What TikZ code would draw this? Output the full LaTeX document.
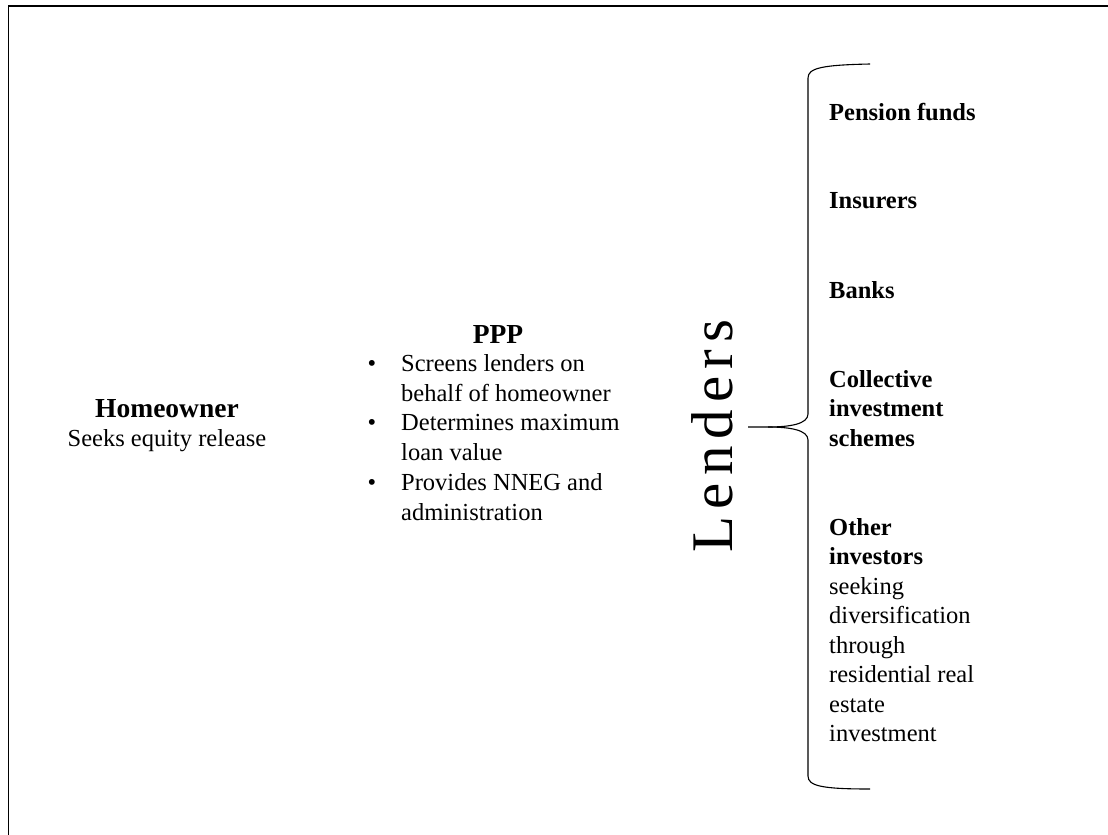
\documentclass[tikz,border=0pt]{standalone}
\usepackage{fontspec}
\setmainfont{Liberation Serif}
\begin{document}
\begin{tikzpicture}[x=1pt,y=-1pt,
  body/.style={inner sep=0pt,font=\fontsize{24.5}{29.5}\selectfont},
  head/.style={inner sep=0pt,font=\fontsize{27.5}{32}\selectfont\bfseries},
  bold/.style={body,font=\fontsize{24.5}{29.5}\selectfont\bfseries},
  bracepath/.style={line width=1.1pt}]
\useasboundingbox (0,0) rectangle (1108,835);
\clip (0,0) rectangle (1108,835);
\draw[line width=1.8pt] (8.5,6) rectangle (1130,860);
% Homeowner
\node[head,anchor=base] (home) at (167,417) {Homeowner};
\node[body,anchor=base] (seeks) at (167,446) {Seeks equity release};
% PPP
\node[head,anchor=base] (ppp) at (498,343) {PPP};
\foreach \y/\t [count=\i] in {371/Screens lenders on,401/behalf of homeowner,430/Determines maximum,460/loan value,490/Provides NNEG and,520/administration}{
  \node[body,anchor=base west] (pl\i) at (401,\y) {\t};
}
\foreach \y [count=\i] in {371,430,490}{
  \node[body,anchor=base] (b\i) at (372,\y) {•};
}
% Lenders
\node[inner sep=0pt,rotate=90,font=\fontsize{59}{61}\selectfont] (lenders) at (712,436)
  {L\hspace{7pt}e\hspace{7pt}n\hspace{7pt}d\hspace{7pt}e\hspace{7pt}r\hspace{7pt}s};
% brace
\coordinate (btop) at (870,64);
\coordinate (bbot) at (870,789);
\coordinate (btip) at (748,427);
\draw[bracepath] (btop) .. controls (822,65) and (808,68) .. (808,78)
  -- (808,414) .. controls (808,424) and (790,427) .. (768,427) -- (btip);
\draw[bracepath] (768,427) .. controls (790,427) and (808,430) .. (808,440)
  -- (808,776) .. controls (808,786) and (822,789) .. (bbot);
% lender items
\node[bold,anchor=base west] (pf) at (829,120) {Pension funds};
\node[bold,anchor=base west] (ins) at (829,208) {Insurers};
\node[bold,anchor=base west] (banks) at (829,298) {Banks};
\node[bold,anchor=base west] (c1) at (829,387) {Collective};
\node[bold,anchor=base west] (c2) at (829,416.5) {investment};
\node[bold,anchor=base west] (c3) at (829,446) {schemes};
\node[bold,anchor=base west] (o1) at (829,535) {Other};
\node[bold,anchor=base west] (o2) at (829,564.5) {investors};
\foreach \y/\t [count=\i] in {594/seeking,623.5/diversification,653/through,682.5/residential real,712/estate,741.5/investment}{
  \node[body,anchor=base west] (ot\i) at (829,\y) {\t};
}
\end{tikzpicture}
\end{document}
